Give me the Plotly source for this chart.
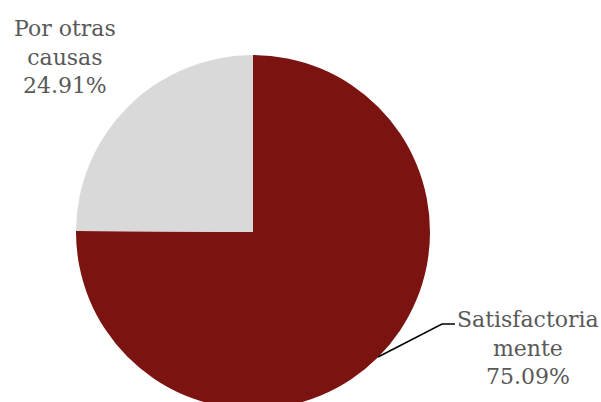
import plotly.graph_objects as go

labels = ["Satisfactoria<br>mente", "Por otras<br>causas"]
values = [75.09, 24.91]
pct_text = ["75.09%", "24.91%"]
colors = ["#7B1310", "#D9D9D9"]

W, H = 601, 409
ml, mr, mt, mb = 76, 171, 55, 0
pw = W - ml - mr
ph = H - mt - mb

def px2paper(x, y):
    return (x - ml) / pw, (H - mb - y) / ph

fig = go.Figure(go.Pie(
    labels=labels,
    values=values,
    marker=dict(colors=colors, line=dict(width=0)),
    sort=False,
    direction="clockwise",
    rotation=0,
    textinfo="none",
    hoverinfo="label+percent",
    showlegend=False,
))

font = dict(family="DejaVu Serif", size=22, color="#595959")
label_pos = [(528, 348), (65, 57)]
for lab, pt, (x, y) in zip(labels, pct_text, label_pos):
    xp, yp = px2paper(x, y)
    fig.add_annotation(xref="paper", yref="paper", x=xp, y=yp,
                       text=f"{lab}<br>{pt}", showarrow=False, font=font,
                       align="center", xanchor="center", yanchor="middle")

# leader line for the large slice
p0 = px2paper(378, 357)
p1 = px2paper(442, 324)
p2 = px2paper(455, 324)
fig.add_shape(type="path", xref="paper", yref="paper",
              path=f"M {p0[0]},{p0[1]} L {p1[0]},{p1[1]} L {p2[0]},{p2[1]}",
              line=dict(color="black", width=1.5))

fig.update_layout(width=W, height=H, margin=dict(l=ml, r=mr, t=mt, b=mb),
                  paper_bgcolor="white", plot_bgcolor="white")

fig.write_html("out.html", config={"displayModeBar": False}, post_script=(
    "document.body.style.margin='0';"
    "document.body.style.overflow='hidden';"
    "document.documentElement.style.overflow='hidden';"))
